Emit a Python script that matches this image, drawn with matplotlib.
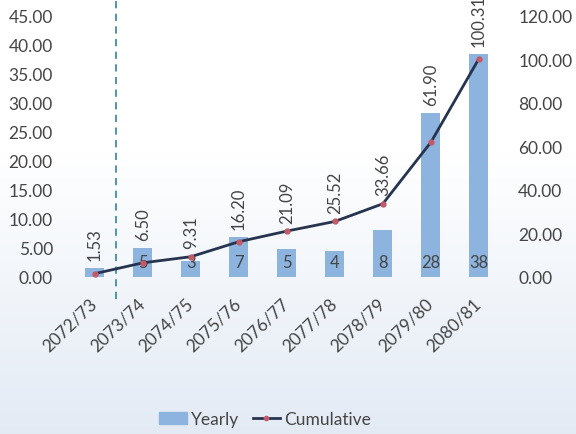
import matplotlib
matplotlib.use('Agg')
import matplotlib.pyplot as plt
import matplotlib.transforms as mtransforms
import numpy as np
from matplotlib.lines import Line2D
from matplotlib.patches import Patch

plt.rcParams['font.family'] = ['Lato', 'DejaVu Sans']

years = ['2072/73', '2073/74', '2074/75', '2075/76', '2076/77',
         '2077/78', '2078/79', '2079/80', '2080/81']
yearly = [1.53, 4.97, 2.81, 6.89, 4.89, 4.43, 8.14, 28.24, 38.41]
cumulative = [1.53, 6.50, 9.31, 16.20, 21.09, 25.52, 33.66, 61.90, 100.31]
yearly_labels = ['', '5', '3', '7', '5', '4', '8', '28', '38']

BAR = '#8db3df'
LINE = '#27344f'
MARK = '#c25a68'
TXT = '#454545'

fig = plt.figure(figsize=(5.76, 4.35), dpi=100)

# soft vertical gradient background
bg = fig.add_axes([0, 0, 1, 1], zorder=-10)
grad = np.linspace(0, 1, 256).reshape(-1, 1)
top = np.array([1.0, 1.0, 1.0])
bot = np.array([0.89, 0.92, 0.96])
t = np.clip((grad - 0.35) / 0.65, 0, 1)
img = top + (bot - top) * t[..., None]
bg.imshow(img, aspect='auto', extent=[0, 1, 0, 1], origin='upper')
bg.axis('off')

ax = fig.add_axes([0.123, 0.361, 0.750, 0.600])
ax.patch.set_alpha(0)
x = np.arange(len(years))
ax.bar(x, yearly, width=0.4, color=BAR, zorder=2)
ax.set_xlim(-0.5, len(years) - 0.5)
ax.set_ylim(0, 45)
ax.set_yticks(np.arange(0, 46, 5))
ax.set_yticklabels([f'{v:.2f}' for v in np.arange(0, 46, 5)])
ax.set_xticks(x)
ax.set_xticklabels(years, rotation=44, ha='right', va='center',
                   rotation_mode='anchor')
shift = mtransforms.ScaledTranslation(6 / 100, 0, fig.dpi_scale_trans)
for lab in ax.get_xticklabels():
    lab.set_transform(lab.get_transform() + shift)

ax2 = ax.twinx()
ax2.set_ylim(0, 120)
ax2.set_yticks(np.arange(0, 121, 20))
ax2.set_yticklabels([f'{v:.2f}' for v in np.arange(0, 121, 20)])
ax2.plot(x, cumulative, color=LINE, lw=2, marker='o', ms=3.5,
         mfc=MARK, mec=MARK, zorder=3)

for a in (ax, ax2):
    for s in a.spines.values():
        s.set_visible(False)
    a.tick_params(length=0, labelsize=12.5, colors=TXT)
ax.tick_params(axis='y', pad=13)
ax.tick_params(axis='x', pad=17)
ax2.tick_params(axis='y', pad=11)

# labels: yearly inside bars, cumulative rotated above
for i in x:
    if yearly_labels[i]:
        ax.text(i, 2.6, yearly_labels[i], ha='center', va='center',
                fontsize=12, color=TXT, zorder=4)
    base = max(cumulative[i], yearly[i] * 120 / 45)
    ax2.annotate(f'{cumulative[i]:.2f}', (i, base), xytext=(0, 6),
                 textcoords='offset points', rotation=90, ha='center',
                 va='bottom', fontsize=12, color=TXT, annotation_clip=False)

# dashed separator
ax.axvline(0.45, ymin=-0.085, ymax=1.08, color='#3f8fa6', lw=1.3,
           ls=(0, (4, 3)), clip_on=False, zorder=1)

handles = [Patch(color=BAR, label='Yearly'),
           Line2D([], [], color=LINE, lw=2, marker='o', ms=3, mfc=MARK,
                  mec=MARK, label='Cumulative')]
fig.legend(handles=handles, loc='center', bbox_to_anchor=(0.46, 0.035),
           ncol=2, frameon=False, fontsize=12.5, handlelength=1.6,
           handletextpad=0.2, columnspacing=0.8, labelcolor=TXT)

fig.savefig('out.png', dpi=100)
